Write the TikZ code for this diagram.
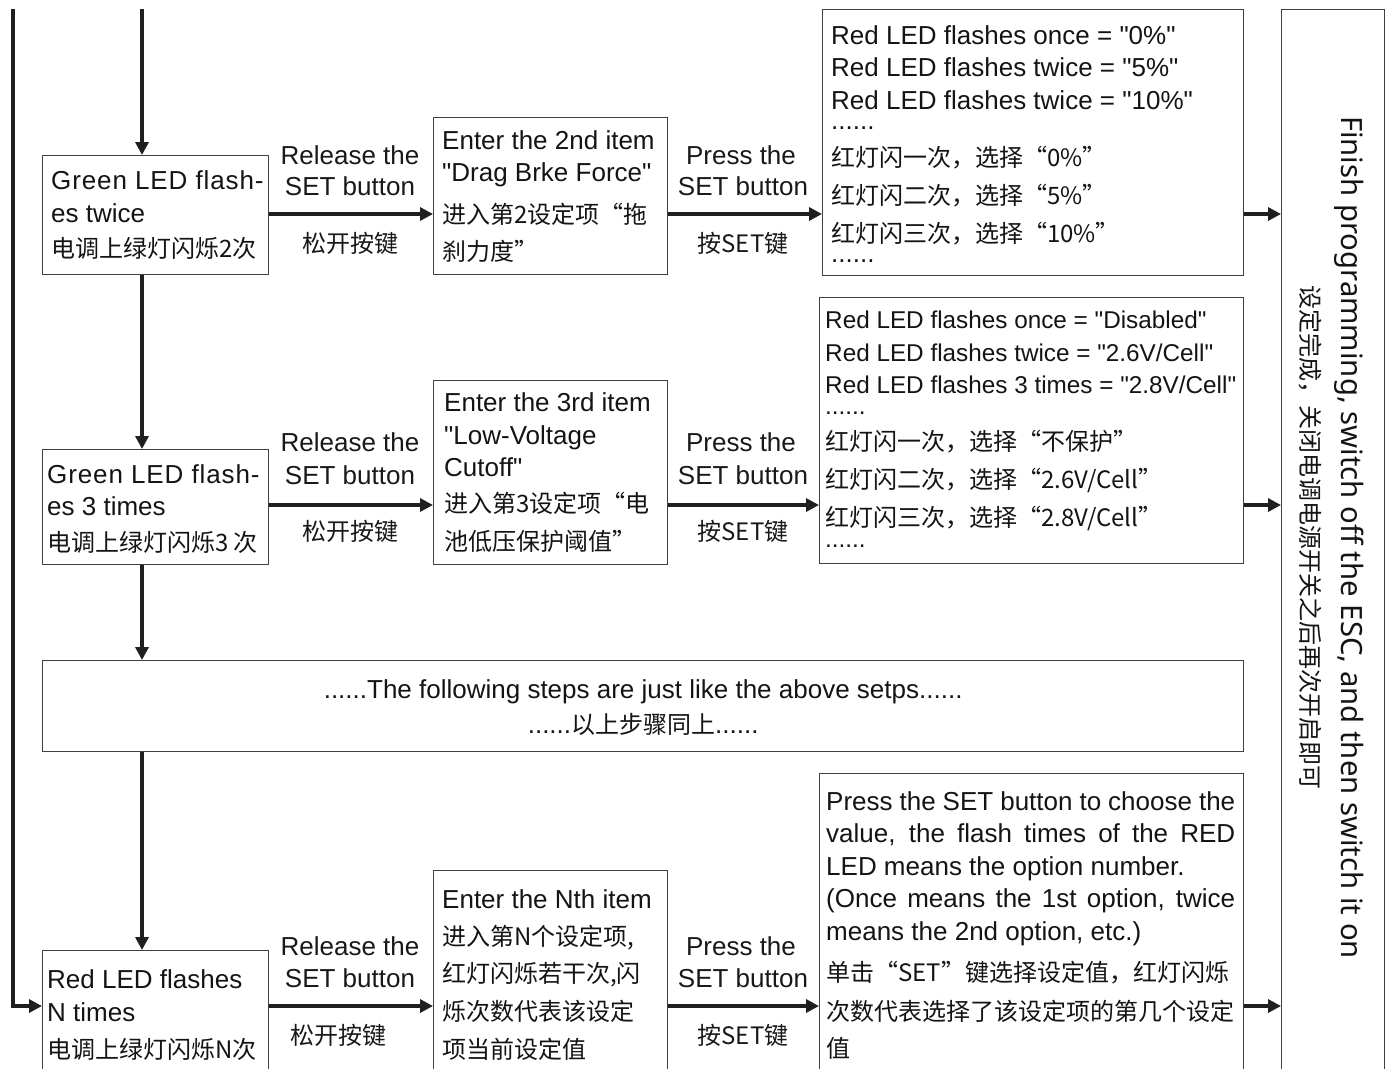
\documentclass[tikz,border=0pt]{standalone}
\usepackage{fontspec}
\setmainfont{Liberation Sans}[Ligatures=TeXOff]
\newfontfamily\spaced{Liberation Sans}[Ligatures=TeXOff,LetterSpace=3.4]
\newfontfamily\cjk{Noto Sans CJK SC}
\newfontfamily\finfont{Noto Sans}
\usetikzlibrary{arrows.meta}
\newcommand\fE{\fontsize{26}{32.5}\selectfont}
\newcommand\fEs{\fontsize{24.3}{32.5}\selectfont}
\newcommand\zh{\cjk\fontsize{24}{32.5}\selectfont}
\tikzset{
  box/.style={draw=black!75, line width=1.3pt, anchor=north west, inner sep=0pt},
  txt/.style={anchor=west, align=left, inner sep=0pt, font=\fE, text=black!92},
  arr/.style={line width=4.5pt, draw=black!88, -{Triangle[length=13pt,width=13pt]}},
  lbl/.style={anchor=base, font=\fE, inner sep=0pt, text=black!90},
  zlbl/.style={anchor=base, font=\zh, inner sep=0pt, text=black!90},
}
\begin{document}
\begin{tikzpicture}[x=1pt,y=-1pt]
\useasboundingbox (0,0) rectangle (1391,1068);
\clip (0,0) rectangle (1391,1068);
\fill[white] (0,0) rectangle (1391,1068);

% row coordinates
\coordinate (r1) at (0,214);
\coordinate (r2) at (0,505);
\coordinate (r3) at (0,1006);
\coordinate (sT) at (142,9);
\coordinate (sL) at (13,9);

% ---------- boxes
\node[box, minimum width=226pt, minimum height=119pt] (A1) at (42,155) {};
\node[box, minimum width=234pt, minimum height=157pt] (B1) at (433,117) {};
\node[box, minimum width=421pt, minimum height=266pt] (C1) at (822,9) {};
\node[box, minimum width=226pt, minimum height=115pt] (A2) at (42,449) {};
\node[box, minimum width=234pt, minimum height=184pt] (B2) at (433,380) {};
\node[box, minimum width=424pt, minimum height=266pt] (C2) at (819,297) {};
\node[box, minimum width=1201pt, minimum height=91pt] (D) at (42,660) {};
\node[box, minimum width=226pt, minimum height=129pt] (A3) at (42,950) {};
\node[box, minimum width=234pt, minimum height=208pt] (B3) at (433,870) {};
\node[box, minimum width=424pt, minimum height=304pt] (C3) at (819,773) {};
\node[box, minimum width=103pt, minimum height=1080pt] (F) at (1281,9) {};

% ---------- box texts
\node[txt] (A1t) at ([xshift=9pt]A1.west)
 {{\spaced Green LED flash-}\\es twice\\[3pt]{\zh 电调上绿灯闪烁2次}};
\node[txt] (B1t) at ([xshift=9pt]B1.west)
 {Enter the 2nd item\\"Drag Brke Force"\\[9pt]{\zh 进入第2设定项“拖}\\[4.5pt]{\zh 刹力度”}};
\node[txt] (C1t) at ([xshift=9pt,yshift=-1.5pt]C1.west)
 {Red LED flashes once = "0\%"\\
  Red LED flashes twice = "5\%"\\
  Red LED flashes twice = "10\%"\\[-12pt]
  ......\\[4pt]
  {\zh 红灯闪一次，选择“0\%”}\\[5.5pt]
  {\zh 红灯闪二次，选择“5\%”}\\[5.5pt]
  {\zh 红灯闪三次，选择“10\%”}\\[-12pt]
  ......};

\node[txt] (A2t) at ([xshift=5pt,yshift=-1.5pt]A2.west)
 {{\spaced Green LED flash-}\\es 3 times\\[3pt]{\zh 电调上绿灯闪烁3 次}};
\node[txt] (B2t) at ([xshift=11pt]B2.west)
 {Enter the 3rd item\\"Low-Voltage\\Cutoff"\\[3.5pt]{\zh 进入第3设定项“电}\\[5.5pt]{\zh 池低压保护阈值”}};
\node[txt, font=\fEs] (C2t) at ([xshift=6pt,yshift=1.5pt]C2.west)
 {Red LED flashes once = "Disabled"\\
  Red LED flashes twice = "2.6V/Cell"\\
  Red LED flashes 3 times = "2.8V/Cell"\\[-12pt]
  ......\\[4pt]
  {\zh 红灯闪一次，选择“不保护”}\\[5.5pt]
  {\zh 红灯闪二次，选择“2.6V/Cell”}\\[5.5pt]
  {\zh 红灯闪三次，选择“2.8V/Cell”}\\[-12pt]
  ......};

\node[txt, anchor=center, align=center] (Dt) at ([yshift=-1pt]D.center)
 {......The following steps are just like the above setps......\\[2.5pt]
  ......{\zh 以上步骤同上}......};

\node[txt] (A3t) at ([xshift=5pt]A3.west)
 {Red LED flashes\\N times\\[4.5pt]{\zh 电调上绿灯闪烁N次}};
\node[txt] (B3t) at ([xshift=9pt]B3.west)
 {Enter the Nth item\\[4.5pt]{\zh 进入第N个设定项,}\\[4.5pt]{\zh 红灯闪烁若干次,闪}\\[5.5pt]{\zh 烁次数代表该设定}\\[5.5pt]{\zh 项当前设定值}};
\node[txt] (C3t) at ([xshift=7pt]C3.west)
 {\makebox[409pt][s]{Press the SET button to choose the}\\
  \makebox[409pt][s]{value, the flash times of the RED}\\
  LED means the option number.\\
  \makebox[409pt][s]{(Once means the 1st option, twice}\\
  means the 2nd option, etc.)\\[8.5pt]
  {\zh 单击“SET”键选择设定值，红灯闪烁}\\[7pt]
  {\zh 次数代表选择了该设定项的第几个设定}\\[4.5pt]
  {\zh 值}};

% ---------- finish texts
\node[rotate=-90, inner sep=0pt, font=\finfont\fontsize{29.3}{35}\selectfont, text=black!92] (finEn) at (1349,537.5)
 {Finish programming, switch off the ESC, and then switch it on};
\node[rotate=-90, inner sep=0pt, font=\zh, text=black!92] (finZh) at (1310,537.5)
 {设定完成，关闭电调电源开关之后再次开启即可};

% ---------- arrow labels
\node[lbl] (rl1a) at (350,164.5) {Release the};
\node[lbl] (rl1b) at (350,195.5) {SET button};
\node[zlbl] (rl1c) at (350,252.5) {松开按键};
\node[lbl] (pl1a) at (741,164.5) {Press the};
\node[lbl] (pl1b) at (743,195.5) {SET button};
\node[zlbl] (pl1c) at (743,252.5) {按SET键};

\node[lbl] (rl2a) at (350,451.5) {Release the};
\node[lbl] (rl2b) at (350,484.5) {SET button};
\node[zlbl] (rl2c) at (350,540.5) {松开按键};
\node[lbl] (pl2a) at (741,451.5) {Press the};
\node[lbl] (pl2b) at (743,484.5) {SET button};
\node[zlbl] (pl2c) at (743,540.5) {按SET键};

\node[lbl] (rl3a) at (350,955.5) {Release the};
\node[lbl] (rl3b) at (350,987.5) {SET button};
\node[zlbl] (rl3c) at (338,1044.5) {松开按键};
\node[lbl] (pl3a) at (741,955.5) {Press the};
\node[lbl] (pl3b) at (743,987.5) {SET button};
\node[zlbl] (pl3c) at (743,1044.5) {按SET键};

% ---------- connectors
\draw[arr] (sT) -- (sT |- A1.north);
\draw[arr] (sT |- A1.south) -- (sT |- A2.north);
\draw[arr] (sT |- A2.south) -- (sT |- D.north);
\draw[arr] (sT |- D.south) -- (sT |- A3.north);
\draw[arr] (sL) -- (sL |- r3) -- (r3 -| A3.west);

\draw[arr] (r1 -| A1.east) -- (r1 -| B1.west);
\draw[arr] (r1 -| B1.east) -- (r1 -| C1.west);
\draw[arr] (r1 -| C1.east) -- (r1 -| F.west);

\draw[arr] (r2 -| A2.east) -- (r2 -| B2.west);
\draw[arr] (r2 -| B2.east) -- (r2 -| C2.west);
\draw[arr] (r2 -| C2.east) -- (r2 -| F.west);

\draw[arr] (r3 -| A3.east) -- (r3 -| B3.west);
\draw[arr] (r3 -| B3.east) -- (r3 -| C3.west);
\draw[arr] (r3 -| C3.east) -- (r3 -| F.west);
\end{tikzpicture}
\end{document}
